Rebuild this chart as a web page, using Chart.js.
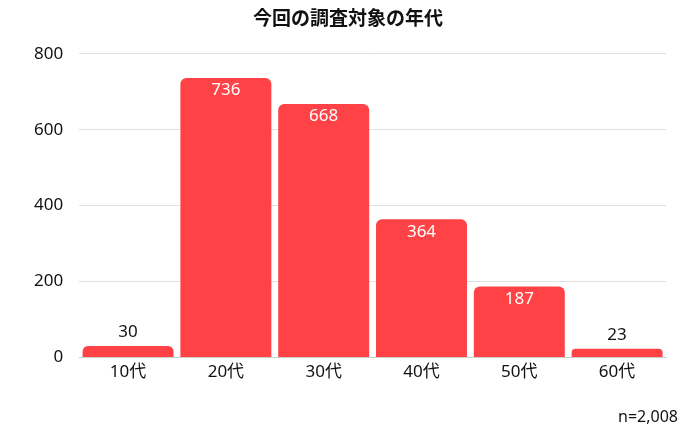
<!DOCTYPE html>
<html>
<head>
<meta charset="utf-8">
<script src="https://cdn.jsdelivr.net/npm/chart.js@4"></script>
<style>
  body { margin: 0; background: #fff; }
  #wrap { width: 700px; height: 431px; }
</style>
</head>
<body>
<div id="wrap"><canvas id="ageChart"></canvas></div>
<script>
// data
const categories = ['10代', '20代', '30代', '40代', '50代', '60代'];
const counts = [30, 736, 668, 364, 187, 23];
const yTicks = [0, 200, 400, 600, 800];

const FONT = "'Noto Sans', 'Noto Sans CJK JP', sans-serif";

// value labels: white inside tall bars, dark above short ones
const valueLabels = {
  id: 'valueLabels',
  afterDatasetsDraw(chart) {
    const ctx = chart.ctx;
    const meta = chart.getDatasetMeta(0);
    ctx.save();
    ctx.font = '17px ' + FONT;
    ctx.textAlign = 'center';
    meta.data.forEach((bar, i) => {
      const v = counts[i];
      if (bar.base - bar.y > 40) {
        ctx.fillStyle = '#ffffff';
        ctx.textBaseline = 'top';
        ctx.fillText(v, bar.x, bar.y + 4);
      } else {
        ctx.fillStyle = '#111111';
        ctx.textBaseline = 'bottom';
        ctx.fillText(v, bar.x, bar.y - 5);
      }
    });
    ctx.restore();
  }
};

new Chart(document.getElementById('ageChart'), {
  type: 'bar',
  data: {
    labels: categories,
    datasets: [{
      data: counts,
      backgroundColor: '#ff4245',
      borderRadius: { topLeft: 6, topRight: 6 },
      borderSkipped: 'bottom',
      barPercentage: 0.93,
      categoryPercentage: 1
    }]
  },
  options: {
    responsive: true,
    maintainAspectRatio: false,
    animation: false,
    layout: { padding: { left: 18, right: 22, top: 0, bottom: 4 } },
    plugins: {
      legend: { display: false },
      tooltip: { enabled: false },
      title: {
        display: true,
        text: '今回の調査対象の年代',
        color: '#111',
        font: { family: "'Noto Sans CJK JP', sans-serif", size: 19, weight: 'bold' },
        padding: { top: 6, bottom: 25 }
      },
      subtitle: {
        display: true,
        position: 'bottom',
        align: 'end',
        text: 'n=2,008',
        color: '#111',
        font: { family: FONT, size: 16 },
        padding: { top: 20, bottom: 0 }
      }
    },
    scales: {
      x: {
        grid: { display: false, drawTicks: false },
        border: { color: '#cccccc' },
        ticks: { color: '#111', font: { family: FONT, size: 17 }, padding: 5 }
      },
      y: {
        min: yTicks[0],
        max: yTicks[yTicks.length - 1],
        afterBuildTicks(axis) { axis.ticks = yTicks.map(v => ({ value: v })); },
        grid: { color: '#e0e0e0', drawTicks: false },
        border: { display: false },
        ticks: { color: '#111', font: { family: FONT, size: 17 }, padding: 16 }
      },
      // empty right-hand spacer so the plot ends short of the footnote
      yRight: {
        position: 'right',
        grid: { display: false, drawTicks: false },
        border: { display: false },
        ticks: { display: false },
        afterFit(axis) { axis.width = 12; }
      }
    }
  },
  plugins: [valueLabels]
});
</script>
</body>
</html>
